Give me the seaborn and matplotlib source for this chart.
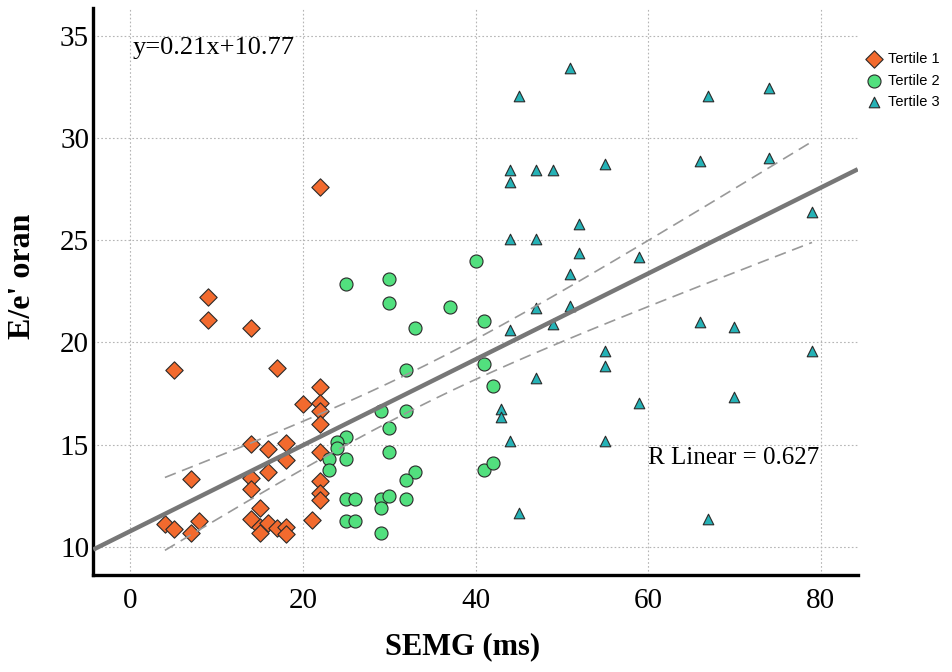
import numpy as np
import pandas as pd
import matplotlib.pyplot as plt
import seaborn as sns

# Tertile 1 (SEMG ms, E/e')
t1_x = [9, 9, 14, 5, 17, 22, 20, 22, 22, 22, 14, 18, 16, 22, 18, 7, 14, 16,
        14, 22, 22, 22, 15, 4, 5, 7, 8, 14, 15, 15, 16, 17, 18, 18, 21, 22]
t1_y = [22.24, 21.1, 20.69, 18.65, 18.76, 17.8, 16.98, 17.02, 16.66, 15.99,
        15.01, 15.09, 14.77, 14.62, 14.24, 13.31, 13.35, 13.64, 12.82, 13.23,
        12.61, 12.29, 11.88, 11.11, 10.85, 10.66, 11.26, 11.34, 10.98, 10.69,
        11.15, 10.9, 10.98, 10.62, 11.31, 27.6]

# Tertile 2
t2_x = [40, 25, 30, 30, 37, 41, 33, 41, 32, 42, 29, 32, 30, 25, 24, 24, 30,
        23, 25, 23, 33, 32, 41, 42, 25, 26, 29, 30, 29, 32, 25, 26, 29]
t2_y = [24.0, 22.86, 23.09, 21.91, 21.75, 21.06, 20.69, 18.93, 18.65, 17.87,
        16.66, 16.66, 15.8, 15.38, 15.14, 14.82, 14.62, 14.28, 14.29, 13.75,
        13.66, 13.26, 13.75, 14.11, 12.35, 12.32, 12.32, 12.48, 11.91, 12.35,
        11.26, 11.26, 10.66]

# Tertile 3
t3_x = [51, 45, 67, 74, 44, 47, 49, 55, 66, 74, 44, 52, 79, 44, 47, 52, 59,
        51, 47, 51, 44, 49, 66, 70, 55, 79, 55, 47, 70, 59, 43, 43, 44, 55,
        45, 67]
t3_y = [33.42, 32.08, 32.08, 32.44, 28.43, 28.43, 28.43, 28.72, 28.89, 29.01,
        27.84, 25.78, 26.37, 25.05, 25.05, 24.39, 24.2, 23.33, 21.7, 21.8,
        20.6, 20.9, 20.98, 20.77, 19.58, 19.58, 18.85, 18.24, 17.34, 17.02,
        16.74, 16.33, 15.17, 15.17, 11.66, 11.34]

groups = ['Tertile 1', 'Tertile 2', 'Tertile 3']
slope, intercept = 0.21, 10.77
r_text = 'R Linear = 0.627'

df = pd.DataFrame({
    'SEMG': t1_x + t2_x + t3_x,
    'Ee': t1_y + t2_y + t3_y,
    'group': [groups[0]] * len(t1_x) + [groups[1]] * len(t2_x) + [groups[2]] * len(t3_x),
})

sns.set_style('white')
plt.rcParams['font.family'] = ['Liberation Serif', 'DejaVu Serif']
plt.rcParams['text.color'] = 'black'
plt.rcParams['xtick.color'] = 'black'
plt.rcParams['ytick.color'] = 'black'
plt.rcParams['axes.labelcolor'] = 'black'

fig = plt.figure(figsize=(9.52, 6.72), dpi=100)
ax = fig.add_axes([0.098, 0.144, 0.803, 0.844])

palette = {'Tertile 1': '#F26A2E', 'Tertile 2': '#52E07E', 'Tertile 3': '#25B2B6'}
markers = {'Tertile 1': 'D', 'Tertile 2': 'o', 'Tertile 3': '^'}
sizes = {'Tertile 1': 78, 'Tertile 2': 88, 'Tertile 3': 58}

for g in groups:
    sub = df[df['group'] == g]
    sns.scatterplot(data=sub, x='SEMG', y='Ee', color=palette[g], marker=markers[g],
                    s=sizes[g], edgecolor='#2a2a2a', linewidth=0.8, label=g,
                    ax=ax, zorder=3)

# fit line (reported equation) across full axis
xlim = (-4.3, 84.3)
xx = np.linspace(xlim[0], xlim[1], 200)
ax.plot(xx, slope * xx + intercept, color='#777777', lw=3.2, zorder=4,
        solid_capstyle='butt')

# 95% confidence band of the mean
x = df['SEMG'].to_numpy(float)
y = df['Ee'].to_numpy(float)
n = len(x)
resid = y - (slope * x + intercept)
s = np.sqrt(np.sum(resid ** 2) / (n - 2))
sxx = np.sum((x - x.mean()) ** 2)
xc = np.linspace(x.min(), x.max(), 200)
half = 1.984 * s * np.sqrt(1 / n + (xc - x.mean()) ** 2 / sxx)
yc = slope * xc + intercept
ax.plot(xc, yc + half, color='#999999', lw=1.2, ls=(0, (7, 4)), zorder=4)
ax.plot(xc, yc - half, color='#999999', lw=1.2, ls=(0, (7, 4)), zorder=4)

ax.set_xlim(*xlim)
ax.set_ylim(8.61, 36.36)
ax.set_xticks([0, 20, 40, 60, 80])
ax.set_yticks([10, 15, 20, 25, 30, 35])
ax.grid(True, color='#b5b5b5', ls=(0, (1.5, 2)), lw=0.8)
ax.set_axisbelow(True)
for side in ['top', 'right']:
    ax.spines[side].set_visible(False)
for side in ['left', 'bottom']:
    ax.spines[side].set_color('black')
    ax.spines[side].set_linewidth(2.4)
ax.tick_params(axis='both', length=0, labelsize=21)
ax.tick_params(axis='x', pad=9)
ax.tick_params(axis='y', pad=3)

ax.set_xlabel('SEMG (ms)', fontsize=22, fontweight='bold')
ax.set_ylabel("E/e' oran", fontsize=23, fontweight='bold')
ax.xaxis.set_label_coords(0.483, -0.1)
ax.yaxis.set_label_coords(-0.073, 0.527)

ax.text(0.051, 0.929, f'y={slope}x+{intercept}', transform=ax.transAxes,
        fontsize=19, va='center', ha='left')
ax.text(0.726, 0.206, r_text, transform=ax.transAxes, fontsize=18,
        va='center', ha='left')

leg = ax.legend(loc='upper left', bbox_to_anchor=(0.998, 0.94), frameon=False,
                prop={'family': 'Liberation Sans', 'size': 10.5},
                handletextpad=0.5, borderaxespad=0.3, labelspacing=0.5,
                handlelength=1.0, markerscale=1.0)

fig.savefig('out.png', dpi=100)
plt.close(fig)
